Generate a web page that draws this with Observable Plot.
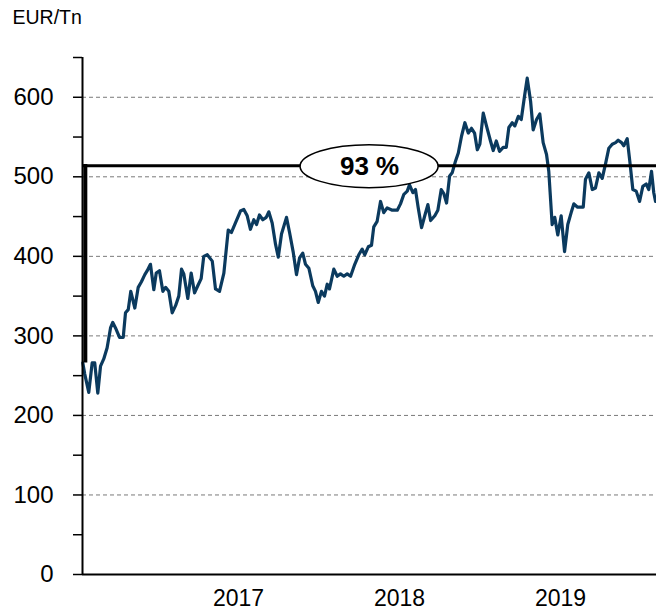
<!DOCTYPE html>
<html>
<head>
<meta charset="utf-8">
<script src="https://cdn.jsdelivr.net/npm/d3@7"></script>
<script src="https://cdn.jsdelivr.net/npm/@observablehq/plot@0.6"></script>
<style>
  html, body { margin: 0; padding: 0; background: #fff; }
  #chart svg { display: block; overflow: visible; }
</style>
</head>
<body>
<div id="chart"></div>
<script>
// ---- data (decimal year, EUR/Tn) ----
const years = [
  2016.033,2016.045,2016.070,2016.091,2016.107,2016.126,2016.143,2016.163,2016.184,2016.205,
  2016.219,2016.236,2016.261,2016.284,2016.298,2016.315,2016.331,2016.356,2016.377,2016.397,
  2016.418,2016.433,2016.453,2016.474,2016.489,2016.509,2016.530,2016.547,2016.567,2016.588,
  2016.609,2016.629,2016.646,2016.660,2016.685,2016.706,2016.727,2016.747,2016.768,2016.784,
  2016.806,2016.837,2016.857,2016.882,2016.909,2016.936,2016.956,2016.981,2017.012,2017.033,
  2017.054,2017.074,2017.095,2017.112,2017.130,2017.151,2017.172,2017.188,2017.209,2017.230,
  2017.247,2017.267,2017.298,2017.317,2017.340,2017.360,2017.379,2017.399,2017.416,2017.437,
  2017.461,2017.478,2017.495,2017.515,2017.534,2017.551,2017.565,2017.592,2017.613,2017.633,
  2017.654,2017.675,2017.696,2017.722,2017.747,2017.768,2017.784,2017.806,2017.826,2017.840,
  2017.861,2017.882,2017.902,2017.923,2017.955,2017.986,2018.006,2018.027,2018.048,2018.062,
  2018.083,2018.099,2018.116,2018.137,2018.158,2018.176,2018.193,2018.219,2018.238,2018.259,
  2018.275,2018.292,2018.311,2018.327,2018.348,2018.365,2018.385,2018.406,2018.427,2018.447,
  2018.466,2018.483,2018.499,2018.520,2018.540,2018.565,2018.582,2018.601,2018.621,2018.644,
  2018.663,2018.679,2018.700,2018.716,2018.738,2018.756,2018.776,2018.793,2018.814,2018.830,
  2018.851,2018.871,2018.892,2018.913,2018.927,2018.948,2018.964,2018.983,2019.004,2019.025,
  2019.045,2019.066,2019.083,2019.104,2019.141,2019.155,2019.176,2019.197,2019.217,2019.238,
  2019.259,2019.279,2019.300,2019.321,2019.342,2019.358,2019.379,2019.393,2019.414,2019.430,
  2019.449,2019.470,2019.491,2019.511,2019.532,2019.548,2019.565,2019.579,2019.590
];
const prices = [
  266,252,229,266,266,228,262,271,285,310,
  317,310,298,298,329,333,356,335,361,368,
  377,382,390,358,379,382,356,361,356,329,
  338,350,384,378,347,379,354,363,372,400,
  402,394,359,356,379,433,430,442,457,459,
  451,434,446,440,452,446,449,456,442,415,
  399,428,449,430,405,377,398,404,390,385,
  363,356,342,356,350,365,359,384,375,378,
  375,378,375,390,402,409,402,412,414,437,
  444,469,455,461,458,458,466,478,482,490,
  480,484,461,436,452,465,445,451,458,484,
  479,467,501,505,520,530,551,568,555,561,
  555,534,541,580,564,545,533,545,532,537,
  537,562,568,564,576,572,601,624,595,559,
  572,579,543,528,507,440,449,427,451,406,
  440,455,466,462,462,497,505,484,486,505,
  498,516,536,541,543,546,543,539,548,520,
  484,482,469,488,491,484,507,480,469
];
const yearTicks = [2017, 2018, 2019];
const yTicks = [0, 100, 200, 300, 400, 500, 600];
const yMinorTicks = [50, 150, 250, 350, 450, 550, 650];
const gridValues = [100, 200, 300, 400, 500, 600];
const unitLabel = "EUR/Tn";
const startLevel = prices[0];
const targetLevel = 514;          // level reached: +93 %
const growthLabel = "93 %";
const labelYear = 2017.814;       // where the label sits on the reference line

const series = years.map((x, i) => ({x, y: prices[i]}));
const xDomain = [2016.031, 2019.596];
const font = "'Liberation Sans', Arial, Helvetica, sans-serif";

const ellipseMark = (index, scales) => {
  const g = d3.create("svg:g");
  g.append("ellipse")
    .attr("cx", scales.x(labelYear))
    .attr("cy", scales.y(targetLevel) + 1)
    .attr("rx", 69)
    .attr("ry", 21.5)
    .attr("fill", "white")
    .attr("stroke", "black")
    .attr("stroke-width", 1.5);
  return g.node();
};

const chart = Plot.plot({
  width: 656,
  height: 613,
  marginLeft: 82,
  marginRight: 0,
  marginTop: 57,
  marginBottom: 39,
  style: {fontFamily: font, color: "black", background: "white"},
  x: {type: "linear", domain: xDomain},
  y: {domain: [0, 650]},
  marks: [
    Plot.gridY(gridValues, {stroke: "#7a7a7a", strokeOpacity: 1, strokeWidth: 1, strokeDasharray: "4,3"}),
    Plot.line(series, {x: "x", y: "y", stroke: "#0b3a5e", strokeWidth: 3.2, strokeLinejoin: "round"}),
    Plot.ruleY([targetLevel], {x1: years[0], x2: xDomain[1], stroke: "black", strokeWidth: 3}),
    Plot.ruleX([years[0]], {y1: startLevel, y2: targetLevel + 1.5, stroke: "black", strokeWidth: 4, dx: 2.5}),
    ellipseMark,
    Plot.text([growthLabel], {x: labelYear, y: targetLevel, text: d => d, fontSize: 26, fontWeight: "bold", fill: "black", dy: 1}),
    Plot.ruleY([0], {stroke: "black", strokeWidth: 2}),
    Plot.ruleX([xDomain[0]], {y1: 0, y2: 650, stroke: "black", strokeWidth: 2}),
    Plot.axisY(yTicks, {tickSize: 9, tickPadding: 20, fontSize: 24, label: null, strokeWidth: 1.5}),
    Plot.axisY(yMinorTicks, {tickSize: 9, tickFormat: () => "", label: null, strokeWidth: 1.5}),
    Plot.axisX(yearTicks, {tickSize: 0, tickPadding: 15, fontSize: 23, tickFormat: d => String(d), label: null}),
    Plot.text([unitLabel], {frameAnchor: "top-left", dx: -70, dy: -40, textAnchor: "start", lineAnchor: "middle", fontSize: 19.5, fill: "black"})
  ]
});
document.getElementById("chart").appendChild(chart);
</script>
</body>
</html>
